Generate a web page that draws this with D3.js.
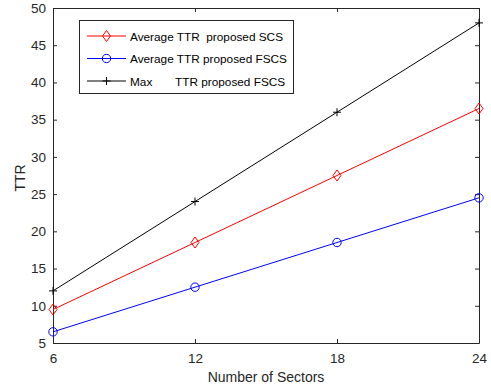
<!DOCTYPE html>
<html>
<head>
<meta charset="utf-8">
<script src="https://cdn.jsdelivr.net/npm/d3@7.9.0/dist/d3.min.js"></script>
<style>
  body { margin: 0; background: #fff; }
  svg { font-family: "Liberation Sans", Arial, sans-serif; }
</style>
</head>
<body>
<svg id="chart" width="491" height="390"></svg>
<script>
const sectors = [6, 12, 18, 24];
const avgScs = [9.5, 18.5, 27.5, 36.5];
const avgFscs = [6.5, 12.5, 18.5, 24.5];
const maxFscs = [12, 24, 36, 48];
const yTicks = [5, 10, 15, 20, 25, 30, 35, 40, 45, 50];

const series = [
  { name: 'Average TTR  proposed SCS', values: avgScs, color: '#ff0000', marker: 'diamond' },
  { name: 'Average TTR proposed FSCS', values: avgFscs, color: '#0000ff', marker: 'circle' },
  { name: 'Max       TTR proposed FSCS', values: maxFscs, color: '#000000', marker: 'plus' }
];

const plotL = 53, plotR = 479, plotT = 8, plotB = 343;
const svg = d3.select('#chart');

const x = d3.scaleLinear().domain([6, 24]).range([plotL, plotR]);
const y = d3.scaleLinear().domain([5, 50]).range([plotB, plotT]);

// axes (ticks inward, like matlab)
const tickLen = 4;
svg.append('g').attr('transform', `translate(0,${plotB})`)
  .call(d3.axisBottom(x).tickValues(sectors).tickSizeInner(-tickLen).tickSizeOuter(0).tickPadding(10));
svg.append('g').attr('transform', `translate(${plotL},0)`)
  .call(d3.axisLeft(y).tickValues(yTicks).tickSizeInner(-tickLen).tickSizeOuter(0).tickPadding(7));
svg.append('g').attr('transform', `translate(0,${plotT})`)
  .call(d3.axisTop(x).tickValues(sectors).tickSizeInner(-tickLen).tickSizeOuter(0).tickFormat(''));
svg.append('g').attr('transform', `translate(${plotR},0)`)
  .call(d3.axisRight(y).tickValues(yTicks).tickSizeInner(-tickLen).tickSizeOuter(0).tickFormat(''));

svg.selectAll('.domain').attr('stroke', '#262626');
svg.selectAll('.tick line').attr('stroke', '#262626');
svg.selectAll('.tick text').attr('font-size', 13.5).attr('fill', '#262626')
  .attr('font-family', '"Liberation Sans", Arial, sans-serif');

// axis labels
svg.append('text').attr('x', (plotL + plotR) / 2).attr('y', 382)
  .attr('text-anchor', 'middle').attr('font-size', 14).attr('fill', '#262626')
  .text('Number of Sectors');
svg.append('text').attr('transform', `translate(25,178) rotate(-90)`)
  .attr('text-anchor', 'middle').attr('font-size', 14).attr('fill', '#262626')
  .text('TTR');

function drawMarker(g, type, cx, cy, color) {
  if (type === 'diamond') {
    g.append('path').attr('d', `M${cx},${cy - 5.5}L${cx + 4},${cy}L${cx},${cy + 5.5}L${cx - 4},${cy}Z`)
      .attr('fill', 'none').attr('stroke', color).attr('stroke-width', 1);
  } else if (type === 'circle') {
    g.append('circle').attr('cx', cx).attr('cy', cy).attr('r', 4.2)
      .attr('fill', 'none').attr('stroke', color).attr('stroke-width', 1);
  } else {
    g.append('path').attr('d', `M${cx - 4},${cy}H${cx + 4}M${cx},${cy - 4}V${cy + 4}`)
      .attr('fill', 'none').attr('stroke', color).attr('stroke-width', 1);
  }
}

const line = d3.line().x((d, i) => x(sectors[i])).y(d => y(d));
series.forEach(s => {
  const g = svg.append('g');
  g.append('path').attr('d', line(s.values)).attr('fill', 'none')
    .attr('stroke', s.color).attr('stroke-width', 1);
  s.values.forEach((v, i) => drawMarker(g, s.marker, x(sectors[i]), y(v), s.color));
});

// legend
const lg = svg.append('g');
lg.append('rect').attr('x', 79.5).attr('y', 20.5).attr('width', 214).attr('height', 73)
  .attr('fill', '#fff').attr('stroke', '#262626').attr('stroke-width', 1);
series.forEach((s, i) => {
  const ly = 36 + i * 22.5;
  lg.append('line').attr('x1', 87).attr('x2', 126).attr('y1', ly).attr('y2', ly)
    .attr('stroke', s.color).attr('stroke-width', 1);
  drawMarker(lg, s.marker, 106.5, ly, s.color);
  lg.append('text').attr('x', 130).attr('y', ly + 4.5).attr('font-size', 11.8)
    .attr('fill', '#000').style('white-space', 'pre')
    .text(s.name);
});
</script>
</body>
</html>
